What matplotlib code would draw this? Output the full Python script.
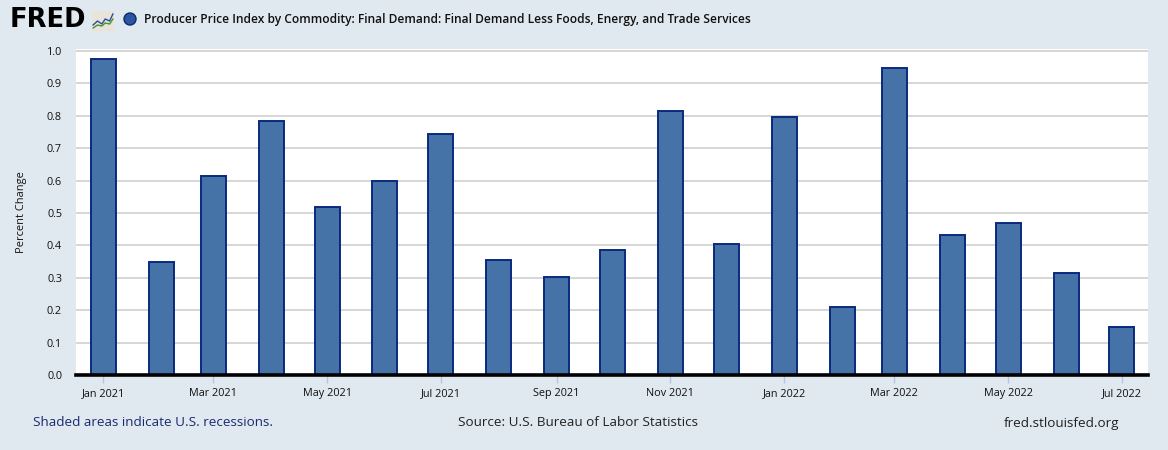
import matplotlib
matplotlib.use("Agg")
import matplotlib.pyplot as plt
import matplotlib.dates as mdates
from matplotlib.patches import Ellipse
import datetime as dt

months = ["2021-01", "2021-02", "2021-03", "2021-04", "2021-05", "2021-06", "2021-07",
          "2021-08", "2021-09", "2021-10", "2021-11", "2021-12", "2022-01", "2022-02",
          "2022-03", "2022-04", "2022-05", "2022-06", "2022-07"]
values = [0.976, 0.349, 0.613, 0.783, 0.518, 0.600, 0.745, 0.354, 0.302, 0.385,
          0.816, 0.405, 0.797, 0.210, 0.948, 0.431, 0.468, 0.314, 0.148]
tick_months = ["2021-01", "2021-03", "2021-05", "2021-07", "2021-09", "2021-11",
               "2022-01", "2022-03", "2022-05", "2022-07"]
tick_labels = ["Jan 2021", "Mar 2021", "May 2021", "Jul 2021", "Sep 2021", "Nov 2021",
               "Jan 2022", "Mar 2022", "May 2022", "Jul 2022"]
y_ticks = [0.0, 0.1, 0.2, 0.3, 0.4, 0.5, 0.6, 0.7, 0.8, 0.9, 1.0]
title = "Producer Price Index by Commodity: Final Demand: Final Demand Less Foods, Energy, and Trade Services"

def to_date(s):
    y, m = s.split("-")
    return dt.date(int(y), int(m), 1)

dates = [to_date(m) for m in months]
tdates = [to_date(m) for m in tick_months]

plt.rcParams['font.family'] = ['Open Sans', 'DejaVu Sans']
BG = "#e1e9f0"
W, H = 1168, 450
fig = plt.figure(figsize=(W / 100, H / 100), dpi=100, facecolor=BG)

def fx(px):
    return px / W

def fy(py):
    return 1 - py / H

ax_w = 1148.3 - 76
ax = fig.add_axes([fx(76), fy(375.3), fx(ax_w), (375.3 - 49.3) / H])
ax.set_facecolor("white")
ax.bar(dates, values, width=13.4, color="#4572a7", edgecolor="#0a2a80", linewidth=1.4, zorder=3)

x0 = mdates.date2num(dates[0]) - 14.6
x1 = mdates.date2num(dates[-1]) + 14.1
ax.set_xlim(x0, x1)
ax.set_ylim(0, 1.0046)

ax.set_yticks(y_ticks)
ax.set_yticklabels([f"{v:.1f}" for v in y_ticks])
ax.set_xticks(tdates)
ax.set_xticklabels(tick_labels)
ax.grid(axis="y", color="#cfcfcf", linewidth=1.2, zorder=0)
ax.grid(axis="x", visible=False)
for s in ["top", "right", "left"]:
    ax.spines[s].set_visible(False)
ax.spines["bottom"].set_color("black")
ax.spines["bottom"].set_linewidth(2.6)
ax.spines["bottom"].set_zorder(5)
ax.tick_params(axis="y", length=0, pad=10, labelsize=7.8, labelcolor="#111111")
ax.tick_params(axis="x", length=6, width=1, color="#b8c4e0", pad=3, labelsize=7.8,
               labelcolor="#111111")
ax.set_ylabel("Percent Change", fontsize=7.9, color="#111111")
ax.yaxis.set_label_coords((27 - 76) / ax_w, 0.5)

# Header
fig.text(fx(10), fy(20), "FRED", fontsize=18.5, fontweight="heavy", color="black",
         va="center", ha="left", family=["DejaVu Sans"])
ic = fig.add_axes([fx(92), fy(31), fx(22), 20 / H])
ic.set_facecolor("#e9e3d8")
ic.set_xlim(0, 10)
ic.set_ylim(0, 10)
ic.plot([0.5, 2.5, 4.5, 6, 8, 9.5], [3, 5, 3.5, 6, 5, 8.5], color="#2a4fa0", lw=1.0)
ic.plot([0.5, 2.5, 4.5, 6, 8, 9.5], [1.5, 3, 2.5, 4, 3.5, 6], color="#3a9a2a", lw=1.0)
ic.set_xticks([])
ic.set_yticks([])
for s in ic.spines.values():
    s.set_visible(False)

circ = Ellipse((fx(130), fy(19)), width=12 / W, height=12 / H, transform=fig.transFigure,
               facecolor="#2b55a0", edgecolor="#0b2a6a", linewidth=1.0)
fig.patches.append(circ)
fig.text(fx(144), fy(19), title, fontsize=8.65, fontweight="semibold", color="#111111",
         va="center", ha="left")

# Footer
fig.text(fx(33), fy(423), "Shaded areas indicate U.S. recessions.", fontsize=9.7,
         color="#1a2a70", va="center", ha="left")
fig.text(fx(578), fy(423), "Source: U.S. Bureau of Labor Statistics", fontsize=9.7,
         color="#222222", va="center", ha="center")
fig.text(fx(1119), fy(423), "fred.stlouisfed.org", fontsize=9.7,
         color="#222222", va="center", ha="right")

fig.savefig("out.png", dpi=100, facecolor=BG)
